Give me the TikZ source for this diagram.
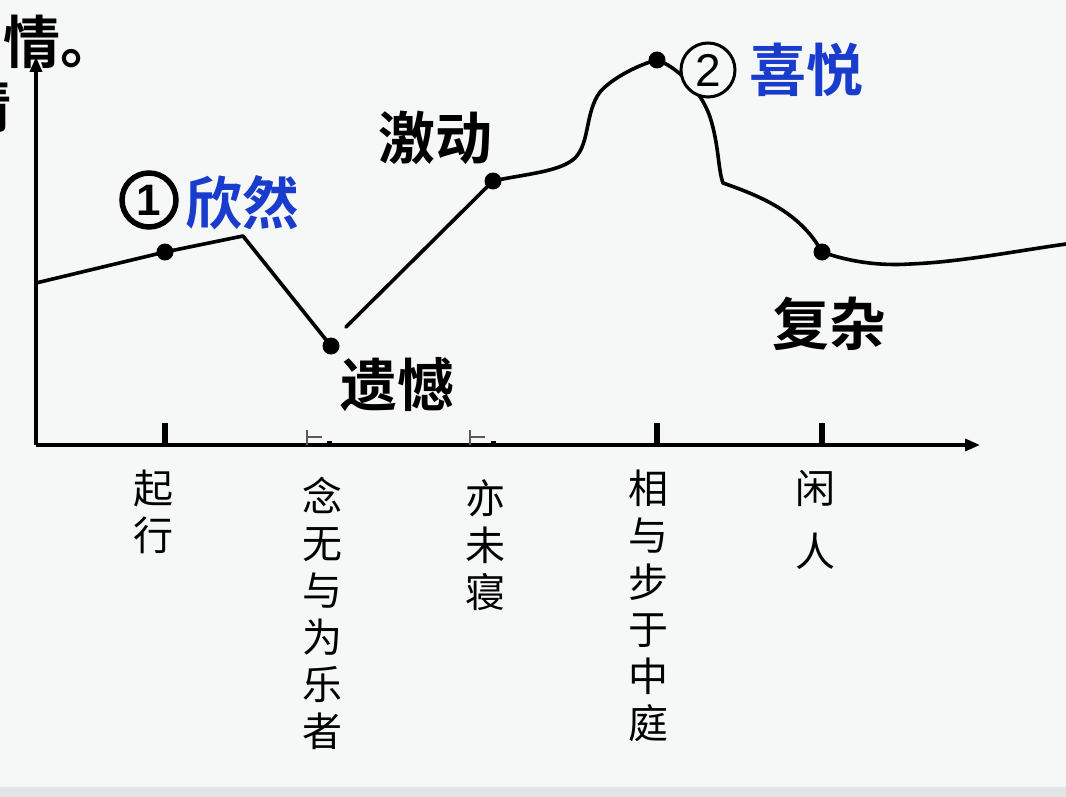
\documentclass[tikz,border=0pt]{standalone}
\usepackage{fontspec}
\usetikzlibrary{arrows.meta}
\setmainfont{Liberation Sans}
\newfontfamily\kai{Noto Sans CJK SC}
\newfontfamily\kaib{Noto Sans CJK SC Bold}
\definecolor{bg}{RGB}{246,247,247}
\definecolor{strip}{RGB}{226,229,229}
\definecolor{bluetxt}{RGB}{25,60,205}
\tikzset{
  axisline/.style={line width=3.5pt,-{Triangle[length=15pt,width=12pt]}},
  curveline/.style={line width=3.6pt,line join=round,line cap=round},
  dotnode/.style={circle,fill=black,inner sep=0pt,minimum size=17pt},
  bigtick/.style={line width=5.5pt},
  smallmark/.style={line width=1.2pt,gray!70!black},
  feel/.style={font=\kaib\fontsize{57}{57}\selectfont,inner sep=0pt},
  feelblue/.style={feel,text=bluetxt},
  vlabel/.style={font=\kai\fontsize{40}{47}\selectfont,align=center,inner sep=0pt,anchor=north},
  numcircle/.style={circle,draw=black,fill=bg,minimum size=54pt,inner sep=0pt}
}
\begin{document}
\begin{tikzpicture}[x=1pt,y=-1pt]
\useasboundingbox (0,0) rectangle (1066,797);
\fill[bg] (0,0) rectangle (1066,797);
\fill[strip] (0,787) rectangle (1066,797);

% top-left text
\node[anchor=west,inner sep=0pt,font=\kaib\fontsize{57}{57}\selectfont] (title) at (3,42) {情。};
\node[inner sep=0pt,font=\kaib\fontsize{57}{57}\selectfont] (titleb) at (-17,106) {情};

% axes
\coordinate (O) at (36,445);
\coordinate (Ytop) at (36,57);
\coordinate (Xend) at (980,445);
\draw[axisline] (O) -- (Ytop);
\draw[axisline] (O) -- (Xend);

% ticks
\coordinate (t1) at (165,445);
\coordinate (t4) at (657,445);
\coordinate (t5) at (822,445);
\draw[bigtick] (t1) -- ++(0,-22);
\draw[bigtick] (t4) -- ++(0,-22);
\draw[bigtick] (t5) -- ++(0,-22);
\coordinate (m2) at (307,445);
\coordinate (m3) at (470,445);
\draw[smallmark] (m2) -- ++(0,-15) (307,437) -- ++(15,0);
\fill (327,441) rectangle (332,446);
\draw[smallmark] (m3) -- ++(0,-15) (470,437) -- ++(15,0);
\fill (491,441) rectangle (496,446);

% curve
\coordinate (c0) at (36,283);
\coordinate (c2) at (243,236);
\coordinate (c3) at (346,327);
\coordinate (c9) at (1066,244);
\node[dotnode] (d1) at (165,252) {};
\node[dotnode] (d2) at (331,346) {};
\node[dotnode] (d3) at (493,181) {};
\node[dotnode] (d4) at (657,60) {};
\node[dotnode] (d5) at (822,252) {};

\draw[curveline] (c0) -- (d1.center) -- (c2) -- (d2.center);
\draw[curveline] (c3) -- (d3.center)
   .. controls (525,174) and (560,172) .. (575,158)
   .. controls (590,143) and (585,112) .. (600,92)
   .. controls (612,78) and (640,64) .. (d4.center)
   .. controls (675,66) and (700,88) .. (710,117)
   .. controls (719,145) and (718,170) .. (723,183)
   .. controls (760,196) and (800,212) .. (d5.center)
   .. controls (850,262) and (880,266) .. (910,264)
   .. controls (960,262) and (1010,252) .. (c9);

% numbered circles
\node[numcircle,line width=5.5pt,font=\bfseries\fontsize{44}{44}\selectfont] (n1) at (149,200) {1};
\node[numcircle,line width=3pt,font=\fontsize{46}{46}\selectfont] (n2) at (708,70) {2};

% feeling labels
\node[feelblue] (xr) at (242,203) {欣然};
\node[feelblue] (xy) at (806,70) {喜悦};
\node[feel] (jd) at (435,138) {激动};
\node[feel] (yh) at (397,385) {遗憾};
\node[feel] (fz) at (829,324) {复杂};

% vertical labels
\node[vlabel] (l1) at (153,470) {起\\行};
\node[vlabel] (l2) at (322,477) {念\\无\\与\\为\\乐\\者};
\node[vlabel] (l3) at (485,479) {亦\\未\\寝};
\node[vlabel] (l4) at (648,470) {相\\与\\步\\于\\中\\庭};
\node[vlabel,font=\kai\fontsize{40}{63}\selectfont] (l5) at (815,470) {闲\\人};
\end{tikzpicture}
\end{document}
